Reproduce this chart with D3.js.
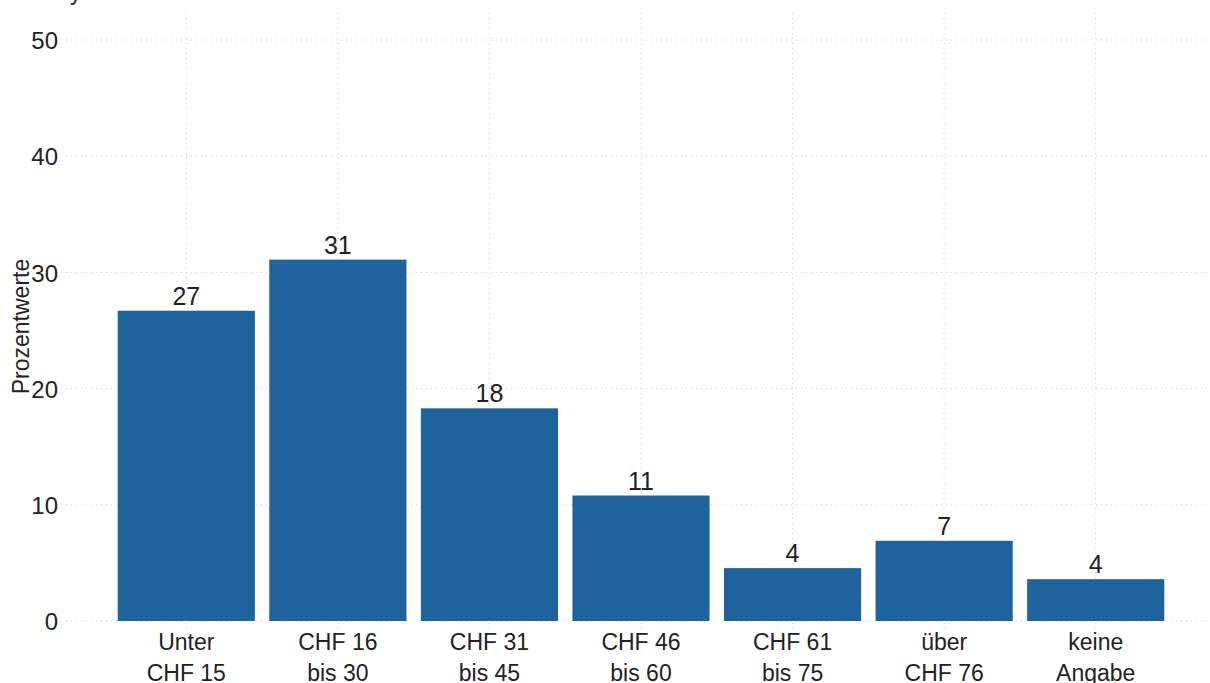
<!DOCTYPE html>
<html>
<head>
<meta charset="utf-8">
<script src="https://cdn.jsdelivr.net/npm/d3@7"></script>
<style>
  html, body { margin: 0; padding: 0; background: #fff; }
  svg { display: block; font-family: "Liberation Sans", Arial, Helvetica, sans-serif; }
</style>
</head>
<body>
<svg id="chart" width="1210" height="683"></svg>
<script>
// ---- data ----
const categories = [
  ["Unter", "CHF 15"],
  ["CHF 16", "bis 30"],
  ["CHF 31", "bis 45"],
  ["CHF 46", "bis 60"],
  ["CHF 61", "bis 75"],
  ["über", "CHF 76"],
  ["keine", "Angabe"]
];
const values = [26.7, 31.1, 18.3, 10.8, 4.55, 6.9, 3.6];
const valueLabels = ["27", "31", "18", "11", "4", "7", "4"];
const yTicks = [0, 10, 20, 30, 40, 50];
const yTitle = "Prozentwerte";

// ---- layout ----
const panel = { left: 66, right: 1210, top: 13, bottom: 630 };
const svg = d3.select("#chart");
const textColor = "#222222";
const gridColor = "#cfcfcf";
const barColor = "#1f639d";

const keys = categories.map((c, i) => i);
const x = d3.scaleBand()
  .domain(keys)
  .range([110.5, 1171.5])
  .paddingInner(0.095)
  .paddingOuter(0.0475);

const y = d3.scaleLinear().domain([0, 50]).range([621, 40]);

// partially clipped title glyph at top
svg.append("text")
  .attr("x", 70).attr("y", 0)
  .attr("font-size", 23).attr("fill", textColor)
  .text("y");

// horizontal grid
svg.append("g").selectAll("line")
  .data(yTicks).join("line")
  .attr("x1", panel.left).attr("x2", panel.right)
  .attr("y1", d => y(d)).attr("y2", d => y(d))
  .attr("stroke", gridColor).attr("stroke-width", 1)
  .attr("stroke-dasharray", "1,4");

// vertical grid
svg.append("g").selectAll("line")
  .data(keys).join("line")
  .attr("x1", d => x(d) + x.bandwidth() / 2).attr("x2", d => x(d) + x.bandwidth() / 2)
  .attr("y1", panel.top).attr("y2", panel.bottom)
  .attr("stroke", gridColor).attr("stroke-width", 1)
  .attr("stroke-dasharray", "1,4");

// bars
svg.append("g").selectAll("rect")
  .data(values).join("rect")
  .attr("x", (d, i) => x(i))
  .attr("width", x.bandwidth())
  .attr("y", d => y(d))
  .attr("height", d => y(0) - y(d))
  .attr("fill", barColor);

// value labels
svg.append("g").selectAll("text")
  .data(values).join("text")
  .attr("x", (d, i) => x(i) + x.bandwidth() / 2)
  .attr("y", d => y(d) - 6)
  .attr("text-anchor", "middle")
  .attr("font-size", 25).attr("fill", textColor)
  .text((d, i) => valueLabels[i]);

// y axis
const yAxis = d3.axisLeft(y).tickValues(yTicks).tickSize(0).tickPadding(0);
const gy = svg.append("g").attr("transform", "translate(58,0)").call(yAxis);
gy.select(".domain").remove();
gy.selectAll("text")
  .attr("font-size", 24).attr("fill", textColor)
  .attr("font-family", "Liberation Sans, Arial, sans-serif")
  .attr("dy", "0.36em");

// x axis (two-line labels)
const xAxis = d3.axisBottom(x).tickSize(0).tickFormat(() => "");
const gx = svg.append("g").attr("transform", `translate(0,${panel.bottom})`).call(xAxis);
gx.select(".domain").remove();
gx.selectAll(".tick text").remove();
gx.selectAll(".tick").each(function(d) {
  const t = d3.select(this).append("text")
    .attr("text-anchor", "middle")
    .attr("font-size", 23).attr("fill", textColor)
    .attr("font-family", "Liberation Sans, Arial, sans-serif");
  categories[d].forEach((line, j) => {
    t.append("tspan").attr("x", 0).attr("y", 20 + j * 31).text(line);
  });
});

// y title
svg.append("text")
  .attr("transform", `translate(29,${(y(0) + y(50)) / 2 - 4}) rotate(-90)`)
  .attr("text-anchor", "middle")
  .attr("font-size", 23).attr("fill", textColor)
  .text(yTitle);
</script>
</body>
</html>
